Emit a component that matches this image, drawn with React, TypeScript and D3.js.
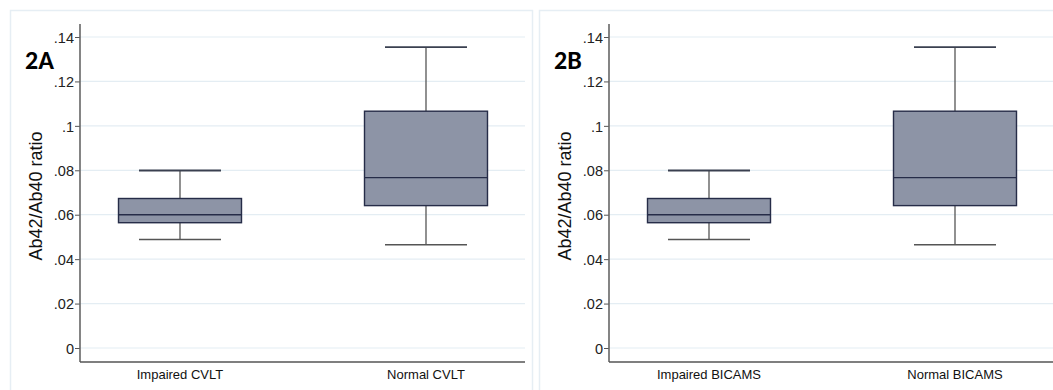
import React, { useEffect, useRef } from 'react';
import * as d3 from 'd3';

// box stats: [lowerWhisker, q1, median, q3, upperWhisker]
const panelLabels = ['2A', '2B'];
const categoriesA = ['Impaired CVLT', 'Normal CVLT'];
const categoriesB = ['Impaired BICAMS', 'Normal BICAMS'];
const impairedStats = [0.0488, 0.0564, 0.0600, 0.0673, 0.0799];
const normalStats = [0.0465, 0.0641, 0.0767, 0.1066, 0.1354];
const yTicks = [0, 0.02, 0.04, 0.06, 0.08, 0.1, 0.12, 0.14];
const yTickLabels = ['0', '.02', '.04', '.06', '.08', '.1', '.12', '.14'];

const App = () => {
  const ref = useRef<SVGSVGElement>(null);

  useEffect(() => {
    document.body.style.margin = '0';
    if (!ref.current) return;
    const svg = d3.select(ref.current);
    svg.selectAll('*').remove();

    const width = 1053;
    const height = 390;
    const font = 'Arial, Liberation Sans, sans-serif';
    svg.append('rect').attr('width', width).attr('height', height).attr('fill', '#fff');

    const panels = [
      { ox: 0, cats: categoriesA, label: panelLabels[0] },
      { ox: 529, cats: categoriesB, label: panelLabels[1] },
    ];

    panels.forEach(p => {
      const g = svg.append('g').attr('transform', `translate(${p.ox},0)`);
      const left = 80;
      const right = 525;
      const top = 24;
      const bottom = 362;

      // panel frame
      g.append('rect')
        .attr('x', 10.5).attr('y', 10.5)
        .attr('width', p.ox === 0 ? 522 : 520).attr('height', 385)
        .attr('fill', '#fff').attr('stroke', '#e6eef4').attr('stroke-width', 1.5);

      const y = d3.scaleLinear().domain([0, 0.14]).range([348, 37]);
      const x = d3.scalePoint<string>().domain(p.cats).range([left, 526]).padding(0.4065);

      // gridlines
      g.append('g')
        .selectAll('line')
        .data(yTicks)
        .join('line')
        .attr('x1', left).attr('x2', right)
        .attr('y1', d => y(d)).attr('y2', d => y(d))
        .attr('stroke', '#e4edf3').attr('stroke-width', 1.2);

      // y axis
      const yAxis = d3.axisLeft(y)
        .tickValues(yTicks)
        .tickSize(5)
        .tickFormat((d, i) => yTickLabels[i]);
      const ya = g.append('g').attr('transform', `translate(${left},0)`).call(yAxis);
      ya.select('.domain').remove();
      ya.selectAll('line').attr('stroke', '#555');
      ya.selectAll('text')
        .attr('font-family', font)
        .attr('font-size', 14.5).attr('fill', '#222').attr('x', -6).attr('dy', '0.36em');

      g.append('line')
        .attr('x1', left).attr('x2', left).attr('y1', top).attr('y2', bottom)
        .attr('stroke', '#666').attr('stroke-width', 1.6);
      g.append('line')
        .attr('x1', left).attr('x2', p.ox === 0 ? right : width - p.ox).attr('y1', bottom).attr('y2', bottom)
        .attr('stroke', '#555').attr('stroke-width', 1.6);

      // category labels
      g.append('g')
        .selectAll('text')
        .data(p.cats)
        .join('text')
        .attr('x', d => x(d)!)
        .attr('y', 379)
        .attr('text-anchor', 'middle')
        .attr('font-family', font)
        .attr('font-size', 13).attr('fill', '#111')
        .text(d => d);

      // y title
      g.append('text')
        .attr('transform', `translate(42,196) rotate(-90)`)
        .attr('text-anchor', 'middle')
        .attr('font-family', font)
        .attr('font-size', 18).attr('fill', '#111')
        .text('Ab42/Ab40 ratio');

      // panel label
      g.append('text')
        .attr('x', 25).attr('y', 69)
        .attr('font-family', 'Calibri, Carlito, "Open Sans", Arial, sans-serif')
        .attr('font-weight', 'bold')
        .attr('font-size', 26).attr('fill', '#000')
        .text(p.label);

      // boxes
      const stats = [impairedStats, normalStats];
      const boxW = 123;
      const capW = 82;
      p.cats.forEach((c, i) => {
        const s = stats[i];
        const cx = x(c)!;
        const bg = g.append('g');
        bg.append('line')
          .attr('x1', cx).attr('x2', cx).attr('y1', y(s[4])).attr('y2', y(s[3]))
          .attr('stroke', '#555').attr('stroke-width', 1.3);
        bg.append('line')
          .attr('x1', cx).attr('x2', cx).attr('y1', y(s[1])).attr('y2', y(s[0]))
          .attr('stroke', '#555').attr('stroke-width', 1.3);
        bg.append('line')
          .attr('x1', cx - capW / 2).attr('x2', cx + capW / 2).attr('y1', y(s[4])).attr('y2', y(s[4]))
          .attr('stroke', '#3a4050').attr('stroke-width', 1.8);
        bg.append('line')
          .attr('x1', cx - capW / 2).attr('x2', cx + capW / 2).attr('y1', y(s[0])).attr('y2', y(s[0]))
          .attr('stroke', '#555').attr('stroke-width', 1.5);
        bg.append('rect')
          .attr('x', cx - boxW / 2).attr('width', boxW)
          .attr('y', y(s[3])).attr('height', y(s[1]) - y(s[3]))
          .attr('fill', '#8d94a6').attr('stroke', '#262c48').attr('stroke-width', 1.4);
        bg.append('line')
          .attr('x1', cx - boxW / 2).attr('x2', cx + boxW / 2).attr('y1', y(s[2])).attr('y2', y(s[2]))
          .attr('stroke', '#262c48').attr('stroke-width', 1.4);
      });
    });
  }, []);

  return <svg ref={ref} width={1053} height={390} style={{ display: 'block' }}></svg>;
};

export default App;
